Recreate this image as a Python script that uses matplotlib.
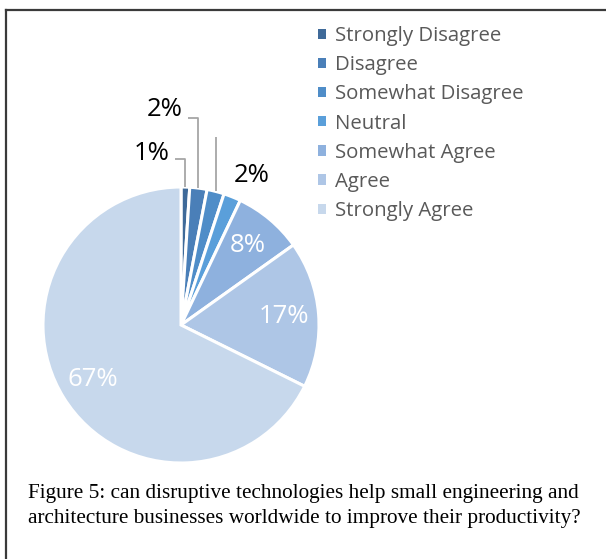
import numpy as np
import matplotlib
matplotlib.use("Agg")
import matplotlib.pyplot as plt
from matplotlib.patches import Patch
from matplotlib.lines import Line2D

# Survey answers, in the order they go round the pie (clockwise from 12 o'clock)
categories = ["Strongly Disagree", "Disagree", "Somewhat Disagree", "Neutral",
              "Somewhat Agree", "Agree", "Strongly Agree"]
shares = [1, 2, 2, 2, 8, 17, 67]
share_labels = ["1%", "2%", "2%", "", "8%", "17%", "67%"]
colors = ["#3F6A99", "#4A7FB8", "#4F8DC8", "#5A9FDA",
          "#8EB1DE", "#AEC6E6", "#C7D8EC"]
caption = ("Figure 5: can disruptive technologies help small engineering and\n"
           "architecture businesses worldwide to improve their productivity?")

W, H = 606, 559
fig = plt.figure(figsize=(W / 100, H / 100), dpi=100)

# pie axes: centre and radius given in pixels
cx, cy, rad = 181, H - 325, 138
lim = 1.2
half = lim * rad
ax = fig.add_axes([(cx - half) / W, (cy - half) / H, 2 * half / W, 2 * half / H])

wedges, _ = ax.pie(shares, colors=colors, startangle=90, counterclock=False,
                   radius=1, wedgeprops=dict(edgecolor="white", linewidth=2.2))
ax.set_xlim(-lim, lim)
ax.set_ylim(-lim, lim)
ax.set_aspect("equal")
ax.axis("off")

def mid_angle(w):
    return np.deg2rad((w.theta1 + w.theta2) / 2)

label_font = dict(family="Open Sans", size=18.5)

# labels inside the large slices
for i in (4, 5, 6):
    a = mid_angle(wedges[i])
    ax.text(0.75 * np.cos(a), 0.75 * np.sin(a), share_labels[i], color="white",
            ha="center", va="center", **label_font)

# small slices: labels outside with leader lines
leader = "#A6A6A6"
outside = {
    0: dict(text=(-0.21, 1.24), elbow_y=1.20, end_x=-0.045),
    1: dict(text=(-0.116, 1.56), elbow_y=1.50, end_x=0.05),
    2: dict(text=(0.51, 1.08), elbow_y=1.36, end_x=None),
}
for i, spec in outside.items():
    a = mid_angle(wedges[i])
    x0, y0 = np.cos(a), np.sin(a)
    xs = [x0, x0]
    ys = [y0, spec["elbow_y"]]
    if spec["end_x"] is not None:
        xs.append(spec["end_x"])
        ys.append(spec["elbow_y"])
    ax.plot(xs, ys, color=leader, lw=1.3, clip_on=False, solid_capstyle="butt")
    ax.text(*spec["text"], share_labels[i], color="black", ha="center",
            va="center", **label_font)

# legend
handles = [Patch(facecolor=c, edgecolor="none") for c in colors]
fig.legend(handles, categories, loc="upper left",
           bbox_to_anchor=(318 / W, 1 - 26 / H), frameon=False,
           prop=dict(family="Open Sans", size=14.7), labelcolor="#595959",
           handlelength=0.4, handleheight=0.4, handletextpad=0.45,
           labelspacing=0.45, borderaxespad=0, borderpad=0)

# caption
fig.text(28 / W, 1 - 484 / H, caption, va="top", ha="left",
         family="Liberation Serif", fontsize=15.3, linespacing=1.4,
         color="black")

# outer frame
frame = dict(transform=fig.transFigure, color="#3A3A3A", lw=1.6)
fig.add_artist(Line2D([6 / W, 1], [1 - 10 / H, 1 - 10 / H], **frame))
fig.add_artist(Line2D([6 / W, 6 / W], [0, 1 - 10 / H], **frame))

fig.savefig("out.png", dpi=100)
